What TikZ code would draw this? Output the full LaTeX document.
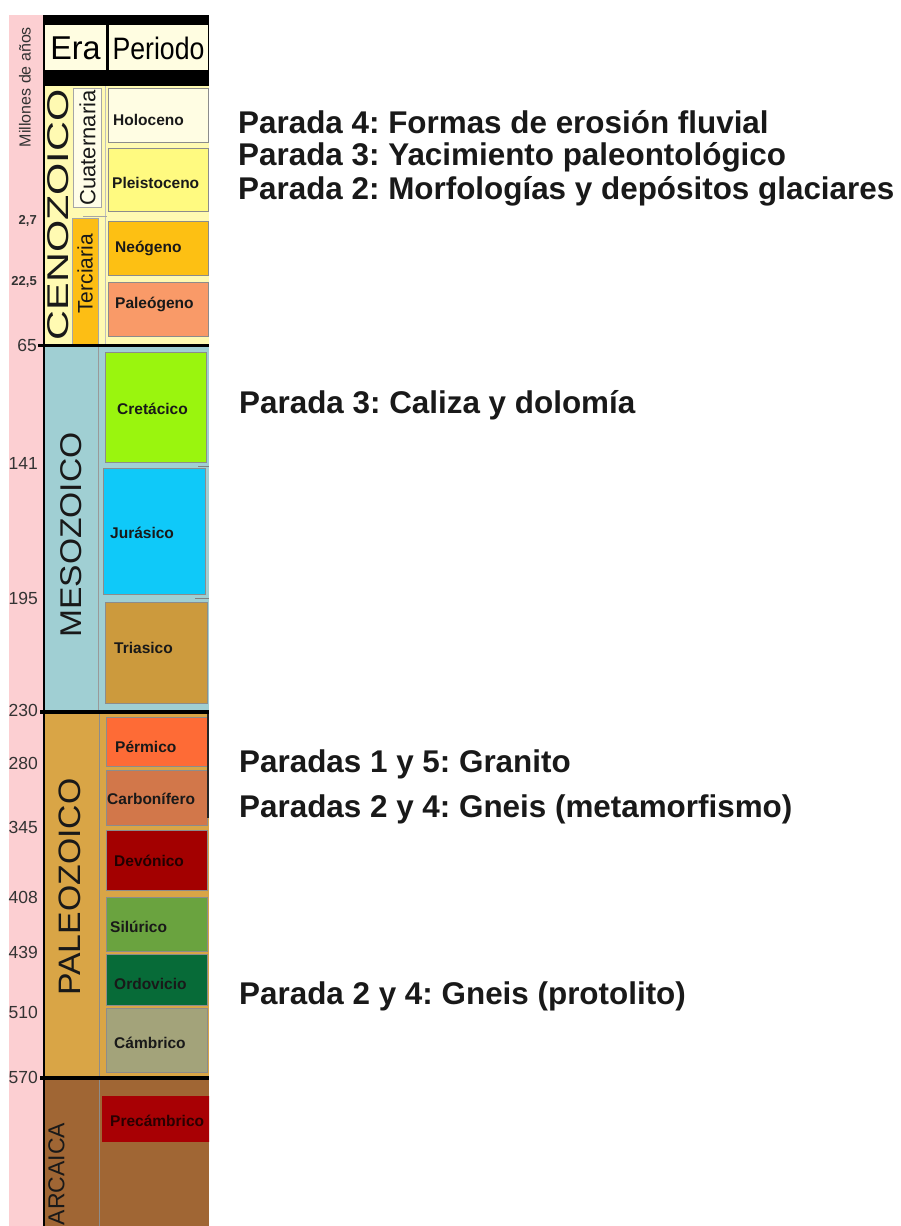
\documentclass[tikz,border=0pt]{standalone}
\usepackage{fontspec}
\setmainfont{Liberation Sans}
\frenchspacing
\definecolor{pinkc}{HTML}{FCCFD2}
\definecolor{creamc}{HTML}{FFFDE1}
\definecolor{cenoc}{HTML}{FFFAB2}
\definecolor{holoc}{HTML}{FFFDE3}
\definecolor{pleic}{HTML}{FFFA80}
\definecolor{neoc}{HTML}{FDC013}
\definecolor{paleogc}{HTML}{F99A68}
\definecolor{mesoc}{HTML}{A0CFD3}
\definecolor{cretc}{HTML}{9AF50E}
\definecolor{jurc}{HTML}{0FC9F9}
\definecolor{triac}{HTML}{CC9A3D}
\definecolor{paleozc}{HTML}{D9A546}
\definecolor{permc}{HTML}{FE6B36}
\definecolor{carbc}{HTML}{D2774A}
\definecolor{devc}{HTML}{A30000}
\definecolor{siluc}{HTML}{6AA33F}
\definecolor{ordoc}{HTML}{076B38}
\definecolor{cambc}{HTML}{A3A37A}
\definecolor{arcc}{HTML}{A06634}
\definecolor{precc}{HTML}{A80004}
\definecolor{terc}{HTML}{FDBE14}
\definecolor{cuac}{HTML}{FFFDE8}
\definecolor{numc}{HTML}{333333}
\begin{document}
\begin{tikzpicture}[x=1pt,y=-1pt,
  pbox/.style={draw=black!45, line width=0.8pt},
  plab/.style={anchor=west, inner sep=0pt, font=\fontsize{15.5}{18}\selectfont\bfseries, text=black!90},
  numlab/.style={anchor=east, inner sep=0pt, font=\fontsize{17.5}{20}\selectfont, text=numc},
  numsmall/.style={anchor=east, inner sep=0pt, font=\fontsize{13}{15}\selectfont\bfseries, text=numc},
  eralab/.style={rotate=90, inner sep=0pt, text=black!90},
  rtext/.style={anchor=west, inner sep=0pt, font=\fontsize{31.4}{36}\selectfont\bfseries, text=black!90},
  blackline/.style={line width=3.5pt, black},
  sepline/.style={line width=1pt, black!40}
]
\useasboundingbox (0,0) rectangle (901,1226);
\fill[white] (0,0) rectangle (901,1226);
% pink age column
\fill[pinkc] (9,15) rectangle (44,1226);
% header
\fill[black] (43,15) rectangle (209,86);
\fill[creamc] (45,25) rectangle (106,70);
\fill[creamc] (109,25) rectangle (208,70);
\node[inner sep=0pt, font=\fontsize{33}{36}\selectfont] (era) at (75.5,48) {\scalebox{0.98}[1]{Era}};
\node[inner sep=0pt, font=\fontsize{31}{36}\selectfont] (periodo) at (158.5,48) {\scalebox{0.86}[1]{Periodo}};
% era backgrounds
\fill[cenoc] (44,86) rectangle (209,345);
\fill[mesoc] (44,345) rectangle (209,712);
\fill[paleozc] (44,712) rectangle (209,1078);
\fill[arcc] (44,1078) rectangle (209,1226);
% column separators
\draw[sepline, black!25] (105,86) -- (105,345);
\draw[sepline] (98.5,347) -- (98.5,712);
\draw[sepline, black!45] (99.5,713) -- (99.5,1078);
\draw[sepline, black!45] (99.5,1078) -- (99.5,1226);
\draw[line width=0.6pt, black!35] (83,216) -- (107,216);
% Cenozoic sub-eras
\path[pbox, draw=black!35, fill=cuac] (73,88) rectangle (101,207);
\path[pbox, draw=black!35, fill=terc] (72,218) rectangle (98,345);
\node[eralab, font=\fontsize{22}{24}\selectfont] (cuat) at (87.5,148) {Cuaternaria};
\node[eralab, font=\fontsize{21}{24}\selectfont] (terc) at (85,274) {Terciaria};
% era labels
\node[eralab, font=\fontsize{30}{32}\selectfont] (ceno) at (58.5,215) {\scalebox{1.38}[1]{CENOZOICO}};
\node[eralab, font=\fontsize{30}{32}\selectfont] (meso) at (71,535) {\scalebox{1.12}[1]{MESOZOICO}};
\node[eralab, font=\fontsize{31}{32}\selectfont] (paleoz) at (70,887) {\scalebox{1.09}[1]{PALEOZOICO}};
\node[eralab, font=\fontsize{23}{26}\selectfont] (arca) at (56.5,1174) {ARCAICA};
% periods
\path[pbox, fill=holoc] (108,88) rectangle (208,142);
\path[pbox, fill=pleic] (108,148) rectangle (208,211);
\path[pbox, fill=neoc] (108,221) rectangle (208,275);
\path[pbox, fill=paleogc] (108,282) rectangle (208,336);
\path[pbox, fill=cretc] (105,352) rectangle (206,462);
\path[pbox, fill=jurc] (103,468) rectangle (205,594);
\path[pbox, fill=triac] (105,602) rectangle (207,703);
\path[pbox, fill=permc] (106,717) rectangle (207,766);
\path[pbox, fill=carbc] (106,770) rectangle (207,825);
\path[pbox, fill=devc] (106,830) rectangle (207,890);
\path[pbox, fill=siluc] (106,897) rectangle (207,951);
\path[pbox, fill=ordoc] (106,954) rectangle (207,1005);
\path[pbox, fill=cambc] (106,1008) rectangle (207,1072);
\node[plab] (holo) at (113,120) {Holoceno};
\node[plab] (plei) at (112,183) {Pleistoceno};
\node[plab] (neo) at (115,248) {Neógeno};
\node[plab] (paleog) at (115,304) {Paleógeno};
\node[plab] (cret) at (117,409) {Cretácico};
\node[plab] (jur) at (110,533) {Jurásico};
\node[plab] (tria) at (114,648) {Triasico};
\node[plab] (perm) at (115,747) {Pérmico};
\node[plab] (carb) at (107,799) {Carbonífero};
\node[plab, text=black!80!devc] (devo) at (114,861) {Devónico};
\node[plab] (silu) at (110,927) {Silúrico};
\node[plab] (ordo) at (114,984) {Ordovicio};
\node[plab] (camb) at (114,1043) {Cámbrico};
\begin{scope}
\clip (0,0) rectangle (209,1226);
\fill[precc] (102,1096) rectangle (215,1142);
\node[plab, text=black!75!precc] (prec) at (110,1121) {Precámbrico};
\end{scope}
% small marks
\draw[line width=1pt, black!50] (198,466) -- (209,466);
\draw[line width=1pt, black!50] (195,598) -- (209,598);
\draw[line width=1.5pt, black!85] (208,713) -- (208,818);
% main black lines
\draw[line width=2pt, black] (43.5,15) -- (43.5,1226);
\draw[blackline] (38,345.5) -- (209,345.5);
\draw[blackline] (40,712) -- (209,712);
\draw[blackline] (40,1078) -- (209,1078);
% ages
\node[eralab, font=\fontsize{16}{18}\selectfont, text=numc] (mill) at (25,87) {Millones de años};
\node[numsmall] (a27) at (37,221) {2,7};
\node[numsmall] (a225) at (37,282) {22,5};
\node[numlab] (a65) at (37,345) {65};
\node[numlab] (a141) at (38,463) {141};
\node[numlab] (a195) at (38,598) {195};
\node[numlab] (a230) at (38,710) {230};
\node[numlab] (a280) at (38,763) {280};
\node[numlab] (a345) at (38,827) {345};
\node[numlab] (a408) at (38,897) {408};
\node[numlab] (a439) at (38,952) {439};
\node[numlab] (a510) at (38,1012) {510};
\node[numlab] (a570) at (38,1077) {570};
% right-hand notes
\node[rtext] (t1) at (238,122) {Parada 4: Formas de erosión fluvial};
\node[rtext] (t2) at (238,157) {Parada 3: Yacimiento paleontológico};
\node[rtext] (t3) at (238,191) {Parada 2: Morfologías y depósitos glaciares};
\node[rtext] (t4) at (239,405) {Parada 3: Caliza y dolomía};
\node[rtext] (t5) at (239,764) {Paradas 1 y 5: Granito};
\node[rtext] (t6) at (239,809) {Paradas 2 y 4: Gneis (metamorfismo)};
\node[rtext] (t7) at (239,996) {Parada 2 y 4: Gneis (protolito)};
\end{tikzpicture}
\end{document}
